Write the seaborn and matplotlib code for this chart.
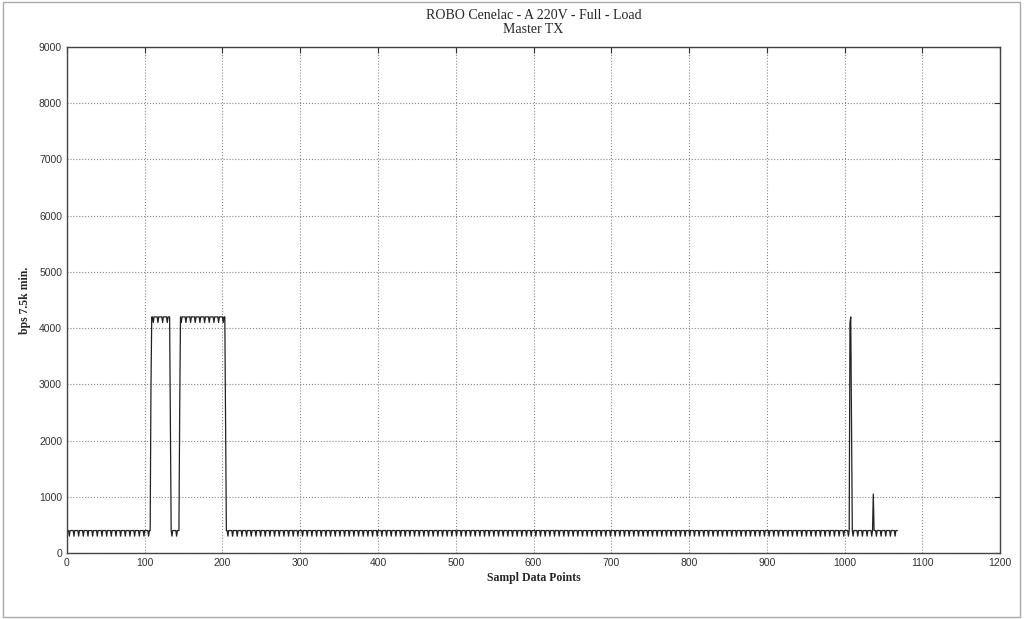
import numpy as np
import pandas as pd
import seaborn as sns
import matplotlib.pyplot as plt
from matplotlib.patches import Rectangle

# ----- data -----
n_samples = 1069
run_starts = [0, 108, 109, 133, 134, 145, 146, 204, 205, 1007, 1008, 1009, 1010, 1037, 1038]
run_levels = [400, 2900, 4200, 2300, 400, 2600, 4200, 2300, 400, 4100, 4200, 2200, 400, 1050, 400]
dip_depth = 100
dip_samples = [
    3, 9, 15, 21, 27, 33, 39, 45, 51, 57, 63, 69, 75, 81, 87, 93, 99, 105, 111, 117,
    123, 129, 135, 141, 147, 153, 159, 165, 171, 177, 183, 189, 195, 201, 207, 213, 219, 225, 231, 237,
    243, 249, 255, 261, 267, 273, 279, 285, 291, 297, 303, 309, 315, 321, 327, 333, 339, 345, 351, 357,
    363, 369, 375, 381, 387, 393, 399, 405, 411, 417, 423, 429, 435, 441, 447, 453, 459, 465, 471, 477,
    483, 489, 495, 501, 507, 513, 519, 525, 531, 537, 543, 549, 555, 561, 567, 573, 579, 585, 591, 597,
    603, 609, 615, 621, 627, 633, 639, 645, 651, 657, 663, 669, 675, 681, 687, 693, 699, 705, 711, 717,
    723, 729, 735, 741, 747, 753, 759, 765, 771, 777, 783, 789, 795, 801, 807, 813, 819, 825, 831, 837,
    843, 849, 855, 861, 867, 873, 879, 885, 891, 897, 903, 909, 915, 921, 927, 933, 939, 945, 951, 957,
    963, 969, 975, 981, 987, 993, 999, 1005, 1011, 1017, 1023, 1029, 1035, 1041, 1047, 1053, 1059, 1065,
]
x_ticks = [0, 100, 200, 300, 400, 500, 600, 700, 800, 900, 1000, 1100, 1200]
y_ticks = [0, 1000, 2000, 3000, 4000, 5000, 6000, 7000, 8000, 9000]

# expand the runs into one value per sample
run_lengths = np.diff(run_starts + [n_samples])
bps = np.repeat(run_levels, run_lengths).astype(float)
bps[dip_samples] -= dip_depth
df = pd.DataFrame({'sample': np.arange(n_samples), 'bps': bps})

sns.set_style("white")
plt.rcParams['font.family'] = ['Liberation Serif', 'DejaVu Serif']

fig = plt.figure(figsize=(10.24, 6.19), dpi=100)
ax = fig.add_axes([0.0654, 0.1066, 0.9112, 0.8174])

sns.lineplot(data=df, x='sample', y='bps', ax=ax, color='#222222', linewidth=0.9)

ax.set_xlim(0, 1200)
ax.set_ylim(0, 9000)
ax.set_xticks(x_ticks)
ax.set_yticks(y_ticks)
ax.tick_params(direction='in', top=True, right=True, length=4, width=0.8,
               labelsize=7.5, color='#333333', labelcolor='#333333')
for lab in ax.get_xticklabels() + ax.get_yticklabels():
    lab.set_family(['Liberation Sans', 'DejaVu Sans'])
ax.grid(True, linestyle=':', color='#888888', linewidth=0.8)
for s in ax.spines.values():
    s.set_color('#444444')
    s.set_linewidth(1.0)

ax.set_title('ROBO Cenelac - A 220V - Full - Load\nMaster TX', fontsize=10, pad=10, linespacing=1.1)
ax.set_xlabel('Sampl Data Points', fontsize=8.5, fontweight='bold', labelpad=3)
ax.set_ylabel('bps 7.5k min.', fontsize=8.5, fontweight='bold', labelpad=6)

# thin frame round the whole picture
fig.patches.append(Rectangle((3 / 1024, 2 / 619), 1017 / 1024, 615 / 619, transform=fig.transFigure,
                             fill=False, edgecolor='#aaaaaa', linewidth=1.0))

fig.savefig('out.png', dpi=100)
